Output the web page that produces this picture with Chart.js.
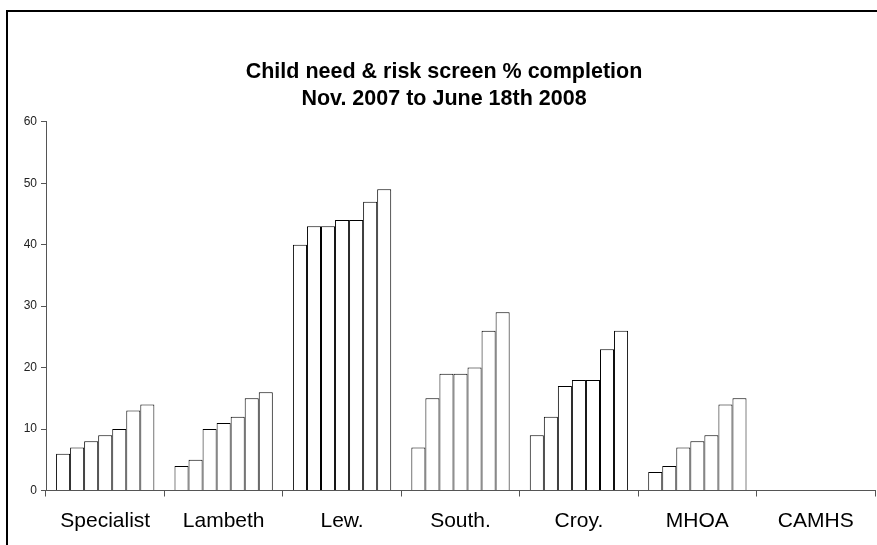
<!DOCTYPE html>
<html>
<head>
<meta charset="utf-8">
<script src="https://cdn.jsdelivr.net/npm/chart.js@4"></script>
<style>
html, body { margin: 0; padding: 0; background: #fff; }
#wrap { position: relative; width: 877px; height: 545px; overflow: hidden; }
#frame {
    position: absolute; left: 6px; top: 10px; width: 900px; height: 600px;
    border-left: 2px solid #000; border-top: 2px solid #000;
}
#chart { position: absolute; left: 0; top: 0; }
</style>
</head>
<body>
<div id="wrap">
    <div id="frame"></div>
    <canvas id="chart" width="877" height="545"></canvas>
</div>
<script>
const categories = ["Specialist", "Lambeth", "Lew.", "South.", "Croy.", "MHOA", "CAMHS"];

// one array per reporting period, in the order the bars appear in each group
const period1 = [6, 4, 40, 7, 9, 3, 0];
const period2 = [7, 5, 43, 15, 12, 4, 0];
const period3 = [8, 10, 43, 19, 17, 7, 0];
const period4 = [9, 11, 44, 19, 18, 8, 0];
const period5 = [10, 12, 44, 20, 18, 9, 0];
const period6 = [13, 15, 47, 26, 23, 14, 0];
const period7 = [14, 16, 49, 29, 26, 15, 0];

const periods = [period1, period2, period3, period4, period5, period6, period7];
const titleLines = ["Child need & risk screen % completion", "Nov. 2007 to June 18th 2008"];
const yTicks = [0, 10, 20, 30, 40, 50, 60];

Chart.defaults.font.family = '"Liberation Sans", Arial, sans-serif';

const datasets = periods.map((values, i) => ({
    label: "Period " + (i + 1),
    data: values,
    backgroundColor: "#ffffff",
    borderColor: "#000000",
    borderWidth: 1,
    barPercentage: 1,
    categoryPercentage: 0.83
}));

new Chart(document.getElementById("chart").getContext("2d"), {
    type: "bar",
    data: { labels: categories, datasets },
    options: {
        responsive: false,
        animation: false,
        layout: { padding: { left: 13, right: 2, top: 0, bottom: 0 } },
        plugins: {
            legend: { display: false },
            tooltip: { enabled: false },
            title: {
                display: true,
                text: titleLines,
                color: "#000",
                font: { size: 21.5, weight: "bold", lineHeight: 1.25 },
                padding: { top: 59, bottom: 9 }
            }
        },
        scales: {
            x: {
                afterFit: s => { s.height = 54.5; },
                grid: {
                    drawOnChartArea: false,
                    tickLength: 6,
                    color: "#555"
                },
                border: { color: "#555", width: 1 },
                ticks: { color: "#000", font: { size: 21 }, padding: 12, maxRotation: 0 }
            },
            y: {
                min: 0,
                max: 60,
                afterFit: s => { s.width = 33; },
                afterBuildTicks: s => { s.ticks = yTicks.map(v => ({ value: v })); },
                grid: {
                    drawOnChartArea: false,
                    tickLength: 5,
                    color: "#555"
                },
                border: { color: "#555", width: 1 },
                ticks: { color: "#222", font: { size: 12 }, padding: 4 }
            }
        }
    }
});
</script>
</body>
</html>
